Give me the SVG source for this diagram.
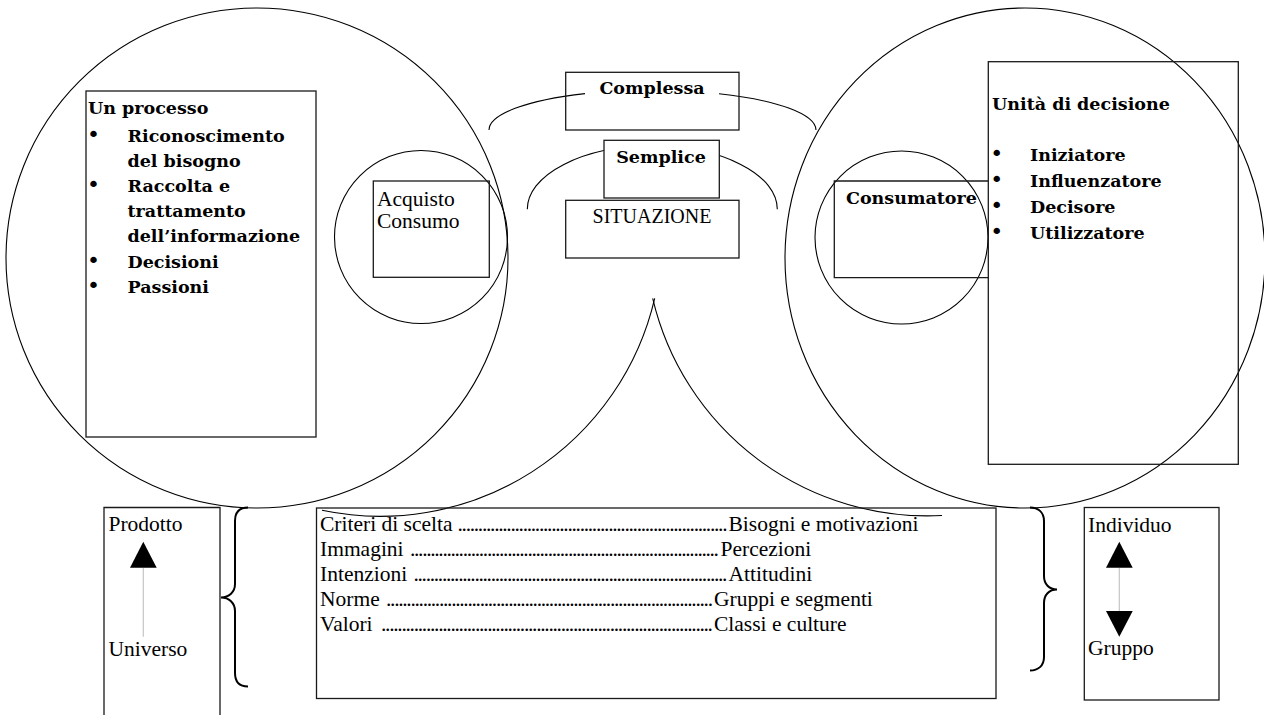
<svg xmlns="http://www.w3.org/2000/svg" width="1264" height="715" viewBox="0 0 1264 715">
  <style>
    .ln{fill:none;stroke:#000;stroke-width:1.1}
    .bx{fill:none;stroke:#1a1a1a;stroke-width:1.3}
    .wb{fill:#fff;stroke:#1a1a1a;stroke-width:1.3}
    .br{fill:none;stroke:#000;stroke-width:2}
    .ax{fill:none;stroke:#c4c4c4;stroke-width:1.2}
    .hd{fill:#000;stroke:none}
    .t{font-family:"Liberation Serif","Times New Roman",serif;font-size:21.5px;fill:#000}
    .b{font-family:"DejaVu Serif","Liberation Serif",serif;font-weight:bold;font-size:17.5px;fill:#000}
    .u{font-family:"DejaVu Sans","Liberation Sans",sans-serif;font-size:22px;fill:#000;text-anchor:middle}
    .m{text-anchor:middle}
  </style>

  <rect width="1264" height="715" fill="#fff"/>

  <!-- circles and arcs -->
  <g id="connectors">
    <ellipse class="ln" cx="257" cy="258" rx="251" ry="250"/>
    <ellipse class="ln" cx="1025" cy="258" rx="240" ry="250"/>
    <circle class="ln" cx="421" cy="237" r="86.5"/>
    <circle class="ln" cx="901.5" cy="237.5" r="86.5"/>
    <!-- arcs under SITUAZIONE -->
    <path class="ln" d="M654.7,298.3 A282,282 0 0 1 322,510.3"/>
    <path class="ln" d="M652.7,298.3 A282,282 0 0 0 942,515.5"/>
    <!-- Complessa arc -->
    <path class="ln" d="M489,130 A163.5,40 0 0 1 585,93.6"/>
    <path class="ln" d="M719,93.7 A163.5,40 0 0 1 816,130"/>
    <!-- Semplice arc -->
    <path class="ln" d="M527.3,209.3 A125,63.5 0 0 1 777.3,209.3"/>
  </g>

  <g id="processo">
    <rect class="bx" x="86" y="91" width="230" height="346"/>
    <text class="b" x="88" y="114">Un processo</text>
    <text class="u" x="93.5" y="142">•</text>
    <text class="b" x="127.5" y="142">Riconoscimento</text>
    <text class="b" x="127.5" y="167">del bisogno</text>
    <text class="u" x="93.5" y="192">•</text>
    <text class="b" x="127.5" y="192">Raccolta e</text>
    <text class="b" x="127.5" y="217">trattamento</text>
    <text class="b" x="127.5" y="242">dell’informazione</text>
    <text class="u" x="93.5" y="267.5">•</text>
    <text class="b" x="127.5" y="267.5">Decisioni</text>
    <text class="u" x="93.5" y="293">•</text>
    <text class="b" x="127.5" y="293">Passioni</text>
  </g>

  <g id="acquisto">
    <rect class="bx" x="373.3" y="181" width="116" height="96.3"/>
    <text class="t" x="377" y="205.7">Acquisto</text>
    <text class="t" x="377" y="228.3">Consumo</text>
  </g>

  <g id="complessa">
    <rect class="bx" x="565.7" y="72.3" width="173.3" height="57.7"/>
    <text class="b m" x="652" y="94.3">Complessa</text>
  </g>

  <g id="semplice">
    <rect class="wb" x="604" y="140.3" width="115.3" height="57.7"/>
    <text class="b m" x="661" y="163.3">Semplice</text>
  </g>

  <g id="situazione">
    <rect class="bx" x="565.7" y="200.3" width="173.3" height="57.7"/>
    <text class="t m" x="652" y="223" style="font-size:20px">SITUAZIONE</text>
  </g>

  <g id="consumatore">
    <path class="bx" d="M988,181 H834.3 V277.7 H988"/>
    <text class="b" x="846" y="204">Consumatore</text>
  </g>

  <g id="unita">
    <rect class="bx" x="988.3" y="61.7" width="250" height="402.6"/>
    <text class="b" x="992" y="110">Unità di decisione</text>
    <text class="u" x="996.7" y="161">•</text>
    <text class="b" x="1030" y="161">Iniziatore</text>
    <text class="u" x="996.7" y="187">•</text>
    <text class="b" x="1030" y="187">Influenzatore</text>
    <text class="u" x="996.7" y="212.5">•</text>
    <text class="b" x="1030" y="212.5">Decisore</text>
    <text class="u" x="996.7" y="238.5">•</text>
    <text class="b" x="1030" y="238.5">Utilizzatore</text>
  </g>

  <g id="prodotto">
    <path class="bx" d="M104,715 V507.5 H220 V715"/>
    <text class="t" x="108.5" y="531">Prodotto</text>
    <line class="ax" x1="143.3" y1="567.7" x2="143.3" y2="636.7"/>
    <polygon class="hd" points="130,567.7 156.7,567.7 143.3,541.7"/>
    <text class="t" x="108.5" y="656">Universo</text>
    <path class="br" d="M248,507.5 C240,507.5 235,512 235,521 L235,584 C235,592 229,597.5 221,597.5 C229,597.5 235,603 235,611 L235,673 C235,682 240,686.5 248,686.5"/>
  </g>

  <g id="criteri">
    <rect class="bx" x="316.5" y="508" width="679.5" height="190.5"/>
    <text class="t" x="320" y="531">Criteri di scelta</text>
    <text class="t" x="457.5" y="531" textLength="270" lengthAdjust="spacing">..................................................................</text>
    <text class="t" x="728.5" y="531">Bisogni e motivazioni</text>
    <text class="t" x="320" y="556">Immagini </text>
    <text class="t" x="410" y="556" textLength="309" lengthAdjust="spacing">............................................................................</text>
    <text class="t" x="720.5" y="556">Percezioni</text>
    <text class="t" x="320" y="581">Intenzioni </text>
    <text class="t" x="413.5" y="581" textLength="314" lengthAdjust="spacing">.............................................................................</text>
    <text class="t" x="728.5" y="581">Attitudini</text>
    <text class="t" x="320" y="606">Norme </text>
    <text class="t" x="386" y="606" textLength="327" lengthAdjust="spacing">................................................................................</text>
    <text class="t" x="714" y="606">Gruppi e segmenti</text>
    <text class="t" x="320" y="631">Valori </text>
    <text class="t" x="381" y="631" textLength="332" lengthAdjust="spacing">.................................................................................</text>
    <text class="t" x="714" y="631">Classi e culture</text>
  </g>

  <g id="individuo">
    <path class="br" d="M1030,507.5 C1038,507.5 1044,512 1044,521 L1044,576 C1044,584 1049,589.5 1057,589.5 C1049,589.5 1044,595 1044,603 L1044,657 C1044,666 1038,670.5 1030,670.5"/>
    <rect class="bx" x="1084.3" y="507.5" width="134.7" height="192.5"/>
    <text class="t" x="1088" y="531.7">Individuo</text>
    <line class="ax" x1="1119.3" y1="567.7" x2="1119.3" y2="611"/>
    <polygon class="hd" points="1106,567.7 1132.7,567.7 1119.3,541.7"/>
    <polygon class="hd" points="1106,611 1132.7,611 1119.3,636.7"/>
    <text class="t" x="1088" y="655">Gruppo</text>
  </g>
</svg>
